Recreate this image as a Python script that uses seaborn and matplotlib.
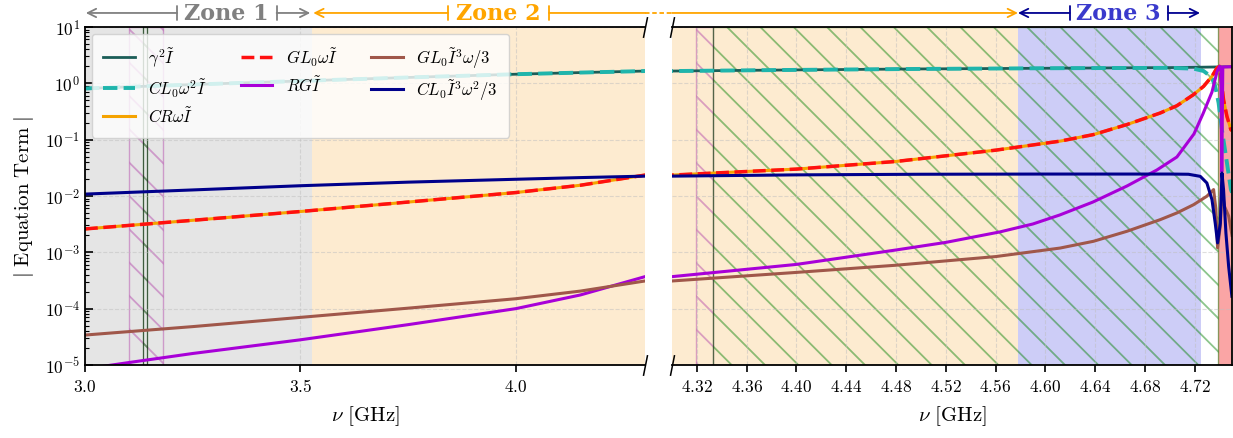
import numpy as np
import pandas as pd
import matplotlib
matplotlib.use("Agg")
import matplotlib.pyplot as plt
import seaborn as sns
from matplotlib.ticker import FixedLocator, FuncFormatter, LogLocator, NullFormatter
from matplotlib.lines import Line2D

plt.rcParams['mathtext.fontset'] = 'cm'
plt.rcParams['hatch.linewidth'] = 1.3

# ---------------- data ----------------
nu_gamma = [3.00, 3.25, 3.50, 3.75, 4.00, 4.15, 4.30, 4.40, 4.50, 4.60, 4.70, 4.725, 4.75]
gamma_I = [0.81, 0.95, 1.10, 1.27, 1.45, 1.55, 1.65, 1.73, 1.80, 1.85, 1.90, 1.93, 1.97]

nu_CLw2 = [3.00, 3.25, 3.50, 3.75, 4.00, 4.15, 4.30, 4.40, 4.50, 4.60, 4.70, 4.7191,
           4.7272, 4.7305, 4.7339, 4.7365, 4.7392, 4.7419, 4.7459, 4.7491, 4.75]
CLw2_I = [0.81, 0.95, 1.10, 1.27, 1.45, 1.55, 1.65, 1.73, 1.80, 1.85, 1.88, 1.82,
          1.65, 1.45, 1.24, 0.885, 0.45, 0.15, 0.039, 0.013, 0.0115]

nu_CRw = [3.00, 3.25, 3.50, 3.75, 4.00, 4.15, 4.30, 4.40, 4.48, 4.56, 4.6118, 4.6387,
          4.6655, 4.6923, 4.7057, 4.7191, 4.7272, 4.7339, 4.7379, 4.7400, 4.7412, 4.7432,
          4.7459, 4.7491, 4.75]
CRw_I = [0.0026, 0.0037, 0.0053, 0.0078, 0.0115, 0.0155, 0.0235, 0.030, 0.041, 0.065, 0.094,
         0.123, 0.185, 0.297, 0.40, 0.63, 0.885, 1.33, 1.87, 2.0, 1.2, 0.51, 0.26, 0.15, 0.145]

nu_GLw = [3.00, 3.25, 3.50, 3.75, 4.00, 4.15, 4.30, 4.40, 4.48, 4.56, 4.6118, 4.6387,
          4.6655, 4.6923, 4.7057, 4.7191, 4.7272, 4.7339, 4.7379, 4.7400, 4.7412, 4.7432,
          4.7459, 4.7491, 4.75]
GLw_I = [0.0026, 0.0037, 0.0053, 0.0078, 0.0115, 0.0155, 0.0235, 0.030, 0.041, 0.065, 0.094,
         0.123, 0.185, 0.297, 0.40, 0.63, 0.885, 1.33, 1.87, 2.0, 1.2, 0.51, 0.26, 0.15, 0.145]

nu_RG = [3.00, 3.10, 3.25, 3.50, 3.75, 4.00, 4.15, 4.30, 4.40, 4.48, 4.52, 4.5634, 4.5899,
         4.6116, 4.6382, 4.6655, 4.6896, 4.7057, 4.7194, 4.7266, 4.7339, 4.7379, 4.7400,
         4.7410, 4.7418, 4.7426, 4.75]
RG_I = [8.5e-6, 1.1e-5, 1.6e-5, 2.8e-5, 5.2e-5, 1.0e-4, 1.75e-4, 3.7e-4, 6.1e-4, 1.1e-3,
        1.5e-3, 2.3e-3, 3.18e-3, 4.6e-3, 7.8e-3, 0.0150, 0.0289, 0.0492, 0.126, 0.285, 0.70,
        1.59, 2.0, 1.95, 0.027, 1.95, 1.97]

nu_GLI3 = [3.00, 3.25, 3.50, 3.75, 4.00, 4.15, 4.30, 4.40, 4.48, 4.56, 4.6118, 4.6387,
           4.6655, 4.6923, 4.7057, 4.7191, 4.7298, 4.7352, 4.7370, 4.7384, 4.7406, 4.7419,
           4.7440, 4.7473, 4.75]
GLI3_I = [3.4e-5, 4.8e-5, 7.0e-5, 1.02e-4, 1.5e-4, 2.05e-4, 3.1e-4, 4.4e-4, 5.9e-4, 8.4e-4,
          1.19e-3, 1.57e-3, 2.36e-3, 3.8e-3, 5.0e-3, 7.0e-3, 9.9e-3, 0.013, 0.006, 0.0012,
          0.003, 0.012, 0.0065, 0.0044, 0.002]

nu_CLI3 = [3.00, 3.25, 3.50, 3.75, 4.00, 4.15, 4.30, 4.40, 4.50, 4.60, 4.70, 4.715, 4.7245,
           4.7298, 4.7339, 4.7365, 4.7384, 4.7406, 4.7419, 4.7432, 4.7451, 4.7473, 4.7499]
CLI3_I = [0.0108, 0.0128, 0.0152, 0.0176, 0.0198, 0.0212, 0.0225, 0.0237, 0.0243, 0.0245,
          0.0245, 0.0243, 0.0223, 0.017, 0.0086, 0.0033, 0.00147, 0.0033, 0.0256, 0.013,
          0.0022, 0.00056, 0.000166]

labels = [r"$\gamma^2\tilde{I}$", r"$CL_0\omega^2\tilde{I}$", r"$CR\omega\tilde{I}$",
          r"$GL_0\omega\tilde{I}$", r"$RG\tilde{I}$", r"$GL_0\tilde{I}^3\omega/3$",
          r"$CL_0\tilde{I}^3\omega^2/3$"]

left_ticks = [3.0, 3.5, 4.0]
right_ticks = [4.32, 4.36, 4.40, 4.44, 4.48, 4.52, 4.56, 4.60, 4.64, 4.68, 4.72]

# zone boundaries (GHz)
z1_end = 3.526
z2_end = 4.578
z3_end = 4.725
red_start = 4.739

# ---------------- figure ----------------
fig = plt.figure(figsize=(12.33, 4.39), dpi=100)
fig.patch.set_facecolor("white")
axL = fig.add_axes([0.0689, 0.1663, 0.4542, 0.770])
axR = fig.add_axes([0.5450, 0.1663, 0.4542, 0.770])

series = [
    (labels[0], nu_gamma, gamma_I, "#1b5e58", "-", 2.0),
    (labels[1], nu_CLw2, CLw2_I, "#1fb5ac", "--", 2.8),
    (labels[2], nu_CRw, CRw_I, "#f5a300", "-", 2.2),
    (labels[3], nu_GLw, GLw_I, "#ff1010", "--", 2.5),
    (labels[4], nu_RG, RG_I, "#a800d8", "-", 2.2),
    (labels[5], nu_GLI3, GLI3_I, "#a0574a", "-", 2.2),
    (labels[6], nu_CLI3, CLI3_I, "#00008b", "-", 2.2),
]

for ax in (axL, axR):
    ax.set_yscale("log")

handles = []
for ax in (axL, axR):
    for lab, x, y, c, ls, lw in series:
        sns.lineplot(x=x, y=y, ax=ax, color=c, linestyle=ls, linewidth=lw,
                     sort=False, estimator=None, legend=False)
        if ax is axL:
            handles.append(Line2D([], [], color=c, linestyle=ls, linewidth=lw, label=lab))

# backgrounds
axL.axvspan(3.0, z1_end, color="#e5e5e5", zorder=0, lw=0)
axL.axvspan(z1_end, 4.30, color="#fdebd0", zorder=0, lw=0)
axR.axvspan(4.30, z2_end, color="#fdebd0", zorder=0, lw=0)
axR.axvspan(z2_end, z3_end, color="#cdcdf7", zorder=0, lw=0)
axR.axvspan(red_start, 4.75, color="#faa5a5", zorder=0, lw=0)

pink = "#b040a8"
axL.axvspan(3.1025, 3.181, facecolor="none", edgecolor=pink, hatch="\\", alpha=0.45, lw=1.0, zorder=0.6)
axL.axvspan(3.135, 3.144, facecolor="none", edgecolor="green", hatch="\\", alpha=0.45, lw=1.0, zorder=0.6)
axL.axvline(3.135, color="k", lw=0.8, alpha=0.5, zorder=0.7)
axL.axvline(3.144, color="k", lw=0.8, alpha=0.5, zorder=0.7)
axR.axvspan(4.319, 4.333, facecolor="none", edgecolor=pink, hatch="\\", alpha=0.45, lw=1.0, zorder=0.6)
axR.axvspan(4.333, red_start, facecolor="none", edgecolor="green", hatch="\\", alpha=0.45, lw=1.0, zorder=0.6)
axR.axvline(4.333, color="k", lw=0.8, alpha=0.3, zorder=0.7)

# axes formatting
for ax in (axL, axR):
    ax.set_ylim(1e-5, 1e1)
    ax.grid(True, which="major", ls="--", color="0.75", lw=0.8, alpha=0.5)
    ax.yaxis.set_major_locator(LogLocator(base=10, numticks=20))
    ax.yaxis.set_minor_locator(LogLocator(base=10, subs=np.arange(2, 10), numticks=100))
    ax.yaxis.set_major_formatter(FuncFormatter(lambda v, p: r"$10^{%d}$" % int(round(np.log10(v)))))
    ax.yaxis.set_minor_formatter(NullFormatter())
    for s in ax.spines.values():
        s.set_linewidth(1.3)
    ax.tick_params(axis="x", which="major", direction="out", length=5, width=1.2, labelsize=12.5, top=False)
    ax.set_xlabel(r"$\nu\ [\mathrm{GHz}]$", fontsize=15, labelpad=6)

axL.set_xlim(3.0, 4.30)
axL.xaxis.set_major_locator(FixedLocator(left_ticks))
axL.xaxis.set_major_formatter(FuncFormatter(lambda v, p: r"$%.1f$" % v))
axR.set_xlim(4.30, 4.75)
axR.xaxis.set_major_locator(FixedLocator(right_ticks))
axR.xaxis.set_major_formatter(FuncFormatter(lambda v, p: r"$%.2f$" % v))

axL.tick_params(axis="y", which="major", direction="in", length=6, width=1.2, labelsize=12.5, right=False)
axL.tick_params(axis="y", which="minor", direction="in", length=3, width=0.8, right=False)
axR.tick_params(axis="y", which="both", left=False, right=False, labelleft=False)
axL.set_ylabel(r"$\mathbf{|}\ \mathrm{Equation\ Term}\ \mathbf{|}$", fontsize=15, labelpad=6)
axR.set_ylabel("")

axL.spines["right"].set_visible(False)
axR.spines["left"].set_visible(False)

# break marks
d = 0.2
kw = dict(marker=[(-d, -1), (d, 1)], markersize=15, linestyle="none", color="k",
          mec="k", mew=1.1, clip_on=False)
axL.plot([1, 1], [0, 1], transform=axL.transAxes, **kw)
axR.plot([0, 0], [0, 1], transform=axR.transAxes, **kw)

# legend
leg = axL.legend(handles=handles, ncol=3, loc="upper left", fontsize=12, framealpha=0.8,
                 edgecolor="0.8", fancybox=True, handlelength=1.9, columnspacing=2.0,
                 labelspacing=0.42, borderaxespad=0.4, handletextpad=0.8, borderpad=0.7)
leg.set_zorder(10)

# zone annotations
ya = 1.0414
tc = ("data", "axes fraction")


def arrow(ax, x0, x1, color, style, ms=15):
    ax.annotate("", xy=(x1, ya), xytext=(x0, ya), xycoords=tc, textcoords=tc,
                arrowprops=dict(arrowstyle=style, color=color, lw=1.3, shrinkA=0, shrinkB=0,
                                mutation_scale=ms), annotation_clip=False)


def zone_text(ax, x, s, color):
    ax.text(x, ya, s, color=color, fontsize=16, fontweight="bold", family="DejaVu Serif",
            ha="center", va="center", transform=ax.get_xaxis_transform())


bar_arrow = "]->,widthA=0.35,lengthA=0"
bar_line = "]-,widthA=0.35,lengthA=0"

# Zone 1
c1 = "#808080"
zone_text(axL, 3.329, "Zone 1", c1)
arrow(axL, 3.214, 3.002, c1, bar_arrow)
arrow(axL, 3.445, 3.523, c1, bar_arrow)

# Zone 2
c2 = "#ffa500"
zone_text(axL, 3.960, "Zone 2", c2)
arrow(axL, 3.843, 3.530, c2, bar_arrow)
arrow(axL, 4.077, 4.30, c2, bar_line)
axL.plot([1.0, 1.0 + 27 / 560], [ya, ya], transform=axL.transAxes, color=c2, lw=1.3,
         ls=(0, (2.5, 1.5)), clip_on=False)
arrow(axR, 4.30, z2_end, c2, "->")

# Zone 3
c3 = "#3a3acc"
c3a = "#000090"
zone_text(axR, 4.6584, "Zone 3", c3)
arrow(axR, 4.6197, z2_end, c3a, bar_arrow)
arrow(axR, 4.6985, 4.7243, c3a, bar_arrow)

fig.savefig("out.png", dpi=100)
